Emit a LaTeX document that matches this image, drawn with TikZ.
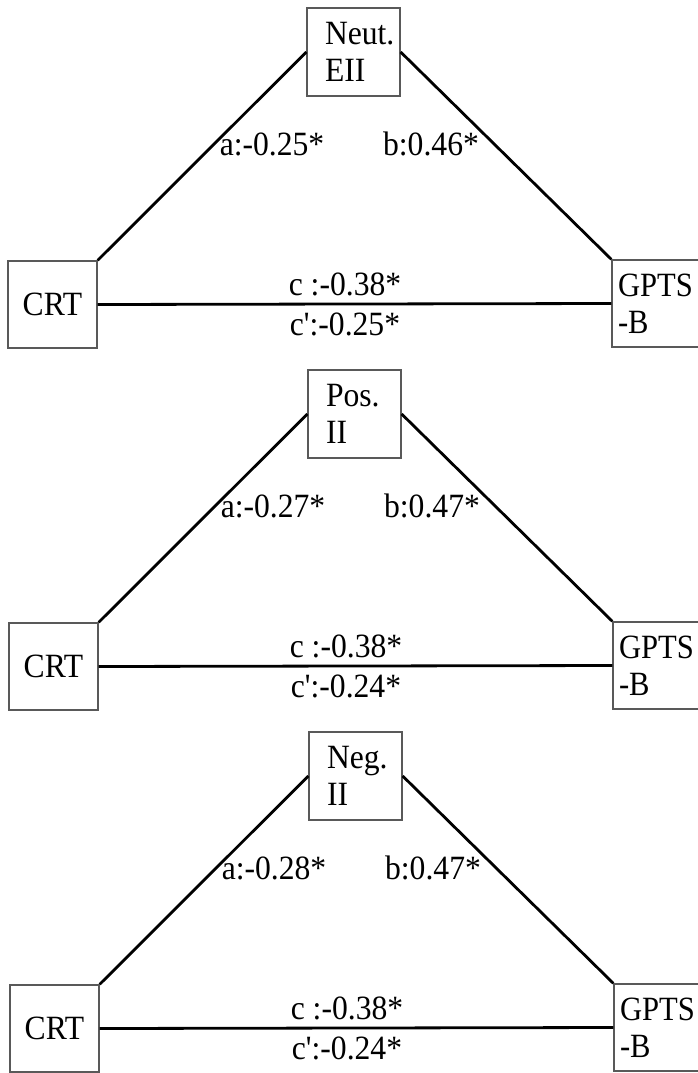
\documentclass[tikz,border=0pt]{standalone}
\usepackage{fontspec}
\setmainfont{Liberation Serif}
\newcommand\sx[1]{\scalebox{0.93}[1]{#1}}
\newcommand\sxg[1]{\scalebox{0.9}[1]{#1}}
\tikzset{
  varbox/.style={draw=black!65, line width=1.3pt, rectangle, inner sep=0pt,
    font=\fontsize{34}{37}\selectfont, align=left},
  pathedge/.style={line width=2.8pt, black},
  coef/.style={font=\fontsize{34}{37}\selectfont, anchor=base, inner sep=0pt, xscale=0.93}
}
\newcommand\drawpanel[9]{%
  % #1 id, #2 dx, #3 dy, #4 top text, #5 a, #6 b, #7 c, #8 c', #9 label dy shift
  \begin{scope}[shift={(#2,#3)}]
    \node[varbox, minimum width=93pt, minimum height=88pt, text width=57pt] (top#1) at (353.5,52) {#4};
    \node[varbox, minimum width=89pt, minimum height=87pt] (crt#1) at (52.5,304.5) {\sx{CRT}};
    \node[varbox, minimum width=88pt, minimum height=87pt, text width=76pt] (gpts#1) at (656,303.5) {\sxg{GPTS}\\\sxg{-B}};
    \draw[pathedge] (crt#1.north east) -- (top#1.west);
    \draw[pathedge] (top#1.east) -- (gpts#1.north west);
    \draw[pathedge] (crt#1.east) -- (gpts#1.west);
    \node[coef] (la#1) at (272,155+#9) {a:-0.#5*};
    \node[coef] (lb#1) at (431,155+#9) {b:0.#6*};
    \node[coef] (lc#1) at (345,295) {c :-0.#7*};
    \node[coef] (ld#1) at (345,335) {c\textquotesingle:-0.#8*};
  \end{scope}
}
\begin{document}
\begin{tikzpicture}[x=1pt,y=-1pt]
\useasboundingbox (0,0) rectangle (698,1073);
\fill[white] (0,0) rectangle (698,1073);
\drawpanel{1}{0}{0}{\sx{Neut.}\\\sx{EII}}{25}{46}{38}{25}{0}
\drawpanel{2}{1}{362}{\sx{Pos.}\\\sx{II}}{27}{47}{38}{24}{0}
\drawpanel{3}{2}{724}{\sx{Neg.}\\\sx{II}}{28}{47}{38}{24}{0}
\end{tikzpicture}
\end{document}
